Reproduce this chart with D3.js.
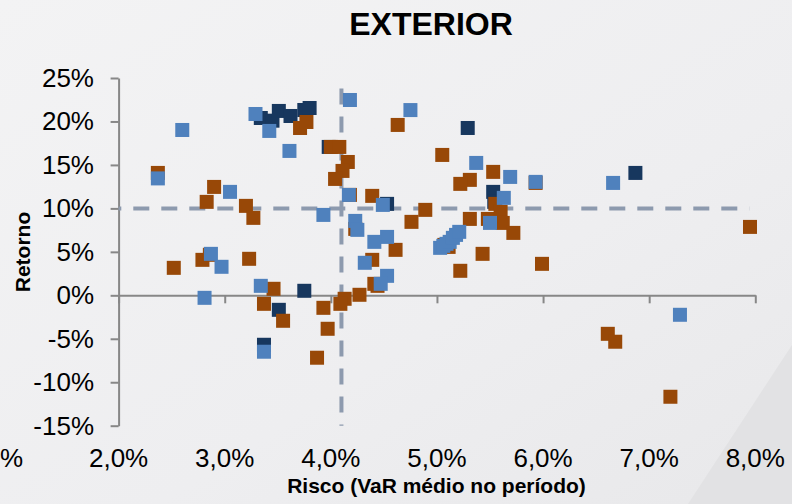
<!DOCTYPE html>
<html>
<head>
<meta charset="utf-8">
<script src="https://cdn.jsdelivr.net/npm/d3@7"></script>
<style>
  html, body { margin: 0; padding: 0; background: #efeff0; }
  svg { display: block; }
  text { font-family: "Liberation Sans", Arial, sans-serif; fill: #000; }
</style>
</head>
<body>
<svg id="chart" width="792" height="504"></svg>
<script>
// ---- data (Risco = VaR médio, Retorno), values in % ----
const title = "EXTERIOR";
const xTitle = "Risco (VaR médio no período)";
const yTitle = "Retorno";
const xTickValues = [1, 2, 3, 4, 5, 6, 7, 8];
const xTickLabels = ["1,0%", "2,0%", "3,0%", "4,0%", "5,0%", "6,0%", "7,0%", "8,0%"];
const yTickValues = [-15, -10, -5, 0, 5, 10, 15, 20, 25];
const yTickLabels = ["-15%", "-10%", "-5%", "0%", "5%", "10%", "15%", "20%", "25%"];
const refRisk = 4.1;          // vertical dashed reference
const refReturn = 10;         // horizontal dashed reference
const refRiskSpan = [23.8, -15];
const refReturnSpan = [2.0, 7.945];

const seriesDark = [
  [3.34, 20.40], [3.45, 20.09], [3.51, 21.21], [3.62, 20.63], [3.75, 21.32], [3.80, 21.55],
  [3.98, 17.07], [4.53, 10.52], [5.29, 19.25], [5.53, 11.90], [5.54, 10.75], [6.87, 14.08],
  [3.75, 0.52], [3.51, -1.67], [3.37, -5.69]
];
const seriesOrange = [
  [2.37, 14.08], [3.71, 19.25], [3.77, 19.94], [4.00, 17.07], [4.08, 17.07], [4.16, 15.34],
  [4.11, 14.31], [4.04, 13.39], [4.18, 11.55], [4.39, 11.44], [4.63, 19.60], [5.05, 16.15],
  [5.31, 13.28], [5.22, 12.82], [4.89, 9.83], [4.76, 8.45], [4.23, 7.64], [4.61, 5.23],
  [5.31, 8.79], [5.07, 5.80], [5.11, 5.57], [4.39, 4.08], [4.41, 1.32], [4.44, 1.09],
  [5.43, 4.77], [5.22, 2.82], [4.27, 0.06], [4.13, -0.40], [4.09, -0.98], [3.23, 4.20],
  [3.46, 0.75], [3.37, -0.98], [3.55, -2.93], [3.93, -1.44], [3.97, -3.85], [3.87, -7.18],
  [2.90, 12.47], [2.83, 10.75], [3.20, 10.29], [3.27, 8.91], [2.52, 3.16], [2.79, 4.08],
  [2.86, 4.66], [5.53, 14.20], [5.93, 12.93], [5.55, 10.52], [5.48, 8.79], [5.60, 9.60],
  [5.62, 8.33], [5.72, 7.18], [5.99, 3.62], [7.95, 7.87], [6.61, -4.43], [6.68, -5.34],
  [7.20, -11.67]
];
const seriesBlue = [
  [3.29, 20.86], [3.42, 18.91], [3.61, 16.61], [4.18, 22.47], [4.17, 11.55], [2.37, 13.45],
  [2.60, 19.02], [5.37, 15.23], [4.49, 10.40], [3.93, 9.25], [4.23, 8.56], [4.25, 7.53],
  [4.53, 6.72], [4.41, 6.15], [5.03, 5.46], [5.06, 5.69], [5.09, 5.92], [5.12, 6.15],
  [5.15, 6.61], [5.18, 6.95], [5.21, 7.30], [4.32, 3.74], [4.53, 2.24], [4.47, 1.32],
  [5.69, 13.62], [5.93, 13.05], [5.63, 11.21], [5.50, 8.33], [6.66, 12.93], [7.29, -2.24],
  [3.34, 1.09], [3.37, -6.49], [2.87, 4.77], [2.97, 3.28], [2.81, -0.29], [3.05, 11.90],
  [4.75, 21.31]
];
const seriesColors = ["#17375e", "#984807", "#4f81bd"];

// ---- drawing ----
const svg = d3.select("#chart");
const W = 792, H = 504;

const defs = svg.append("defs");
const grad = defs.append("linearGradient").attr("id", "bg")
  .attr("x1", "0").attr("y1", "0").attr("x2", "1").attr("y2", "1");
grad.append("stop").attr("offset", "0").attr("stop-color", "#f3f3f4");
grad.append("stop").attr("offset", "0.6").attr("stop-color", "#eeeef0");
grad.append("stop").attr("offset", "1").attr("stop-color", "#e8e8ea");
svg.append("rect").attr("width", W).attr("height", H).attr("fill", "url(#bg)");
svg.append("path").attr("d", "M792,345 L688,504 L792,504 Z").attr("fill", "#e2e2e4");

const x = d3.scaleLinear().domain([2, 8]).range([118.6, 755.3]);
const y = d3.scaleLinear().domain([-15, 25]).range([425.7, 78]);

const axisColor = "#878787";

// y axis (at x = 2%)
const yAxis = d3.axisLeft(y).tickValues(yTickValues).tickFormat("").tickSize(8).tickSizeOuter(0);
const gy = svg.append("g").attr("transform", `translate(${x(2)},0)`).call(yAxis);
gy.select(".domain").attr("stroke", axisColor).attr("stroke-width", 2);
gy.selectAll(".tick line").attr("stroke", axisColor).attr("stroke-width", 2);

// x axis (at y = 0%)
const xAxis = d3.axisBottom(x).tickValues(xTickValues.filter(v => v >= 2)).tickFormat("").tickSize(8).tickSizeOuter(0);
const gx = svg.append("g").attr("transform", `translate(0,${y(0)})`).call(xAxis);
gx.select(".domain").attr("stroke", axisColor).attr("stroke-width", 2);
gx.selectAll(".tick line").attr("stroke", axisColor).attr("stroke-width", 2);

// y tick labels
svg.append("g").selectAll("text").data(yTickValues).join("text")
  .attr("x", 94).attr("y", d => y(d) + 9)
  .attr("text-anchor", "end").attr("font-size", 26)
  .text((d, i) => yTickLabels[i]);

// x tick labels (bottom of chart); the first one sits partly beyond the left edge, as in the original
svg.append("g").selectAll("text").data(xTickValues).join("text")
  .attr("x", d => d < 2 ? x(2) - 125 : x(d))
  .attr("y", 466.5)
  .attr("text-anchor", "middle").attr("font-size", 26)
  .text((d, i) => xTickLabels[i]);

// dashed reference lines
const refColor = "#8d9aae";
svg.append("line")
  .attr("x1", x(refRisk)).attr("x2", x(refRisk))
  .attr("y1", y(refRiskSpan[0])).attr("y2", y(refRiskSpan[1]))
  .attr("stroke", refColor).attr("stroke-width", 4)
  .attr("stroke-dasharray", "16 12");
svg.append("line")
  .attr("x1", x(refReturnSpan[0])).attr("x2", x(refReturnSpan[1]))
  .attr("y1", y(refReturn)).attr("y2", y(refReturn))
  .attr("stroke", refColor).attr("stroke-width", 4)
  .attr("stroke-dasharray", "16 12").attr("stroke-dashoffset", 13.3);

// markers
const size = 14;
[seriesDark, seriesOrange, seriesBlue].forEach((s, si) => {
  svg.append("g").selectAll("rect").data(s).join("rect")
    .attr("x", d => x(d[0]) - size / 2)
    .attr("y", d => y(d[1]) - size / 2)
    .attr("width", size).attr("height", size)
    .attr("fill", seriesColors[si]);
});

// titles
svg.append("text").attr("x", 431).attr("y", 35)
  .attr("text-anchor", "middle").attr("font-size", 32).attr("font-weight", "bold")
  .text(title);
svg.append("text").attr("x", 436.5).attr("y", 493)
  .attr("text-anchor", "middle").attr("font-size", 21).attr("font-weight", "bold")
  .text(xTitle);
svg.append("text")
  .attr("transform", "translate(29.5,252) rotate(-90)")
  .attr("text-anchor", "middle").attr("font-size", 21).attr("font-weight", "bold")
  .text(yTitle);
</script>
</body>
</html>
